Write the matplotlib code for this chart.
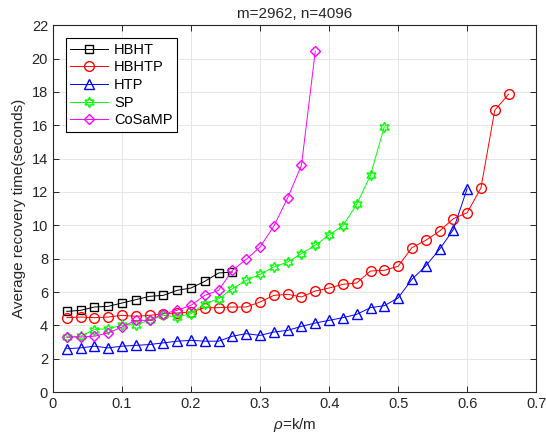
import matplotlib
matplotlib.use("Agg")
import matplotlib.pyplot as plt
import numpy as np

plt.rcParams["font.family"] = ["Liberation Sans", "DejaVu Sans"]
plt.rcParams["mathtext.fontset"] = "custom"
plt.rcParams["mathtext.it"] = "Liberation Sans:italic"

# recovery times, x = rho = k/m in steps of 0.02
hbht = [4.84, 4.9, 5.1, 5.14, 5.34, 5.54, 5.74, 5.8, 6.1, 6.24, 6.64, 7.14, 7.2]
hbhtp = [4.46, 4.5, 4.46, 4.5, 4.6, 4.54, 4.6, 4.7, 4.74, 4.8, 5.06, 5.06, 5.1,
         5.1, 5.4, 5.8, 5.86, 5.7, 6.06, 6.24, 6.46, 6.54, 7.26, 7.3, 7.54,
         8.66, 9.1, 9.65, 10.4, 10.75, 12.24, 16.9, 17.86]
htp = [2.6, 2.65, 2.75, 2.65, 2.75, 2.8, 2.85, 2.95, 3.05, 3.1, 3.05, 3.05,
       3.35, 3.5, 3.4, 3.6, 3.7, 3.94, 4.14, 4.3, 4.46, 4.66, 5.06, 5.18, 5.64,
       6.76, 7.56, 8.56, 9.74, 12.2]
sp = [3.3, 3.35, 3.75, 3.8, 4.0, 4.05, 4.3, 4.6, 4.5, 4.7, 5.3, 5.6, 6.2, 6.7,
      7.06, 7.5, 7.8, 8.3, 8.8, 9.42, 9.97, 11.25, 13.0, 15.92]
cosamp = [3.3, 3.3, 3.35, 3.55, 3.9, 4.3, 4.3, 4.7, 4.9, 5.2, 5.8, 6.1, 7.3,
          7.96, 8.7, 9.95, 11.64, 13.6, 20.44]

def rho(vals):
    return 0.02 * np.arange(1, len(vals) + 1)

fig = plt.figure(figsize=(5.46, 4.42), dpi=100)
ax = fig.add_axes([0.097, 0.113, 0.885, 0.830])

lw = 0.7
ax.plot(rho(hbht), hbht, "-s", color="k", mfc="none", ms=6, lw=lw, label="HBHT")
ax.plot(rho(hbhtp), hbhtp, "-o", color="#ff0000", mfc="none", ms=7, lw=lw, label="HBHTP")
ax.plot(rho(htp), htp, "-^", color="#0000ff", mfc="none", ms=7.5, lw=lw, label="HTP")
ax.plot(rho(sp), sp, "-", marker=(6, 1, 0), color="#00ff00", mfc="none", ms=7.5,
        lw=lw, label="SP")
ax.plot(rho(cosamp), cosamp, "-D", color="#ff00ff", mfc="none", ms=5.5, lw=lw,
        label="CoSaMP")

ax.set_xlim(0, 0.7)
ax.set_ylim(0, 22)
ax.set_xticks(np.arange(0, 0.71, 0.1))
ax.set_xticklabels(["0", "0.1", "0.2", "0.3", "0.4", "0.5", "0.6", "0.7"])
ax.set_yticks(np.arange(0, 23, 2))
ax.tick_params(direction="in", top=True, right=True, labelsize=10.5, length=4,
               width=0.7, colors="#262626")
ax.grid(True, color="#e6e6e6", lw=0.7)
ax.set_axisbelow(True)
for s in ax.spines.values():
    s.set_color("#262626")
    s.set_linewidth(0.8)

ax.set_title("m=2962, n=4096", fontsize=11, color="#262626", pad=5)
ax.set_xlabel(r"$\it{\rho}$=k/m", fontsize=11, color="#262626")
ax.set_ylabel("Average recovery time(seconds)", fontsize=11, color="#262626")

leg = ax.legend(loc="upper left", fontsize=10.5, fancybox=False, framealpha=1,
                edgecolor="k", borderaxespad=0.9, handlelength=2.6,
                labelspacing=0.25, borderpad=0.3, handletextpad=0.4)
leg.get_frame().set_linewidth(0.8)

fig.savefig("out.png", dpi=100, facecolor="white")
